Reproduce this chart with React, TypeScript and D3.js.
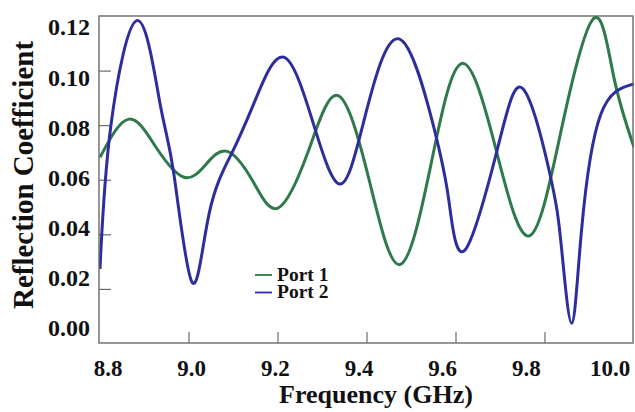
import React from "react";
import * as d3 from "d3";

const port1Freq = [8.8, 8.865, 8.927, 8.989, 9.038, 9.086, 9.143, 9.2, 9.268, 9.335, 9.405, 9.474, 9.544, 9.613, 9.69, 9.766, 9.84, 9.911, 9.955, 10.0];
const port1Val = [0.0684, 0.0824, 0.0718, 0.0611, 0.0658, 0.0706, 0.0598, 0.0498, 0.0706, 0.0910, 0.0600, 0.0291, 0.0660, 0.1028, 0.0712, 0.0397, 0.0810, 0.1195, 0.0975, 0.0721];

const port2Freq = [8.8, 8.824, 8.884, 8.935, 8.966, 9.007, 9.045, 9.097, 9.15, 9.213, 9.278, 9.339, 9.395, 9.472, 9.551, 9.584, 9.62, 9.695, 9.751, 9.811, 9.837, 9.86, 9.882, 9.925, 10.0];
const port2Val = [0.0275, 0.0794, 0.1185, 0.0880, 0.0623, 0.0226, 0.0476, 0.0702, 0.0898, 0.1051, 0.0815, 0.0586, 0.0830, 0.1118, 0.0788, 0.0525, 0.0344, 0.0727, 0.0934, 0.0623, 0.0354, 0.0076, 0.0415, 0.0840, 0.0953];

const xTicks = [8.8, 9.0, 9.2, 9.4, 9.6, 9.8, 10.0];
const yTicks = [0, 0.02, 0.04, 0.06, 0.08, 0.1, 0.12];
const seriesNames = ["Port 1", "Port 2"];
const seriesColors = ["#2e7a4b", "#2d2d9e"];

export default function App() {
  const W = 635, H = 412;
  const left = 100, right = 634, top = 16.5, bottom = 344;
  const x = d3.scaleLinear().domain([8.8, 10.0]).range([left, right]);
  const y = d3.scaleLinear().domain([0, 0.12]).range([bottom, top]);
  // label placement scales (labels in the reference are slightly offset from ticks)
  const xl = d3.scaleLinear().domain([8.8, 10.0]).range([108, 610]);
  const yl = d3.scaleLinear().domain([0, 0.12]).range([328, 27]);

  const line = d3
    .line<[number, number]>()
    .x((d) => x(d[0]))
    .y((d) => y(d[1]))
    .curve(d3.curveNatural);

  const s1 = port1Freq.map((f, i) => [f, port1Val[i]] as [number, number]);
  const s2 = port2Freq.map((f, i) => [f, port2Val[i]] as [number, number]);

  const font = "'Liberation Serif', 'Times New Roman', serif";
  const frame = "#6a6a6a";

  return (
    <svg width={W} height={H} style={{ position: "absolute", left: 0, top: 0, background: "#fff" }} fontFamily={font}>
      <defs>
        <clipPath id="plotclip">
          <rect x={99} y={16} width={535} height={328} />
        </clipPath>
      </defs>
      <rect x={0} y={0} width={W} height={H} fill="#fff" />
      {xTicks.slice(1, -1).map((t) => (
        <line key={"xt" + t} x1={x(t)} x2={x(t)} y1={bottom - 1} y2={bottom - 12} stroke={frame} strokeWidth={1.2} />
      ))}
      {yTicks.slice(1, -1).map((t) => (
        <line key={"yt" + t} x1={left - 1} x2={left + 11} y1={y(t)} y2={y(t)} stroke={frame} strokeWidth={1.2} />
      ))}
      <g clipPath="url(#plotclip)">
        <path d={line(s1) || ""} fill="none" stroke={seriesColors[0]} strokeWidth={3} />
        <path d={line(s2) || ""} fill="none" stroke={seriesColors[1]} strokeWidth={3} />
      </g>
      <rect x={99} y={16} width={534} height={327} fill="none" stroke={frame} strokeWidth={1.4} />
      {xTicks.map((t) => (
        <text key={"xl" + t} x={xl(t)} y={376} textAnchor="middle" fontSize={23} fontWeight="bold" fill="#111">
          {t.toFixed(1)}
        </text>
      ))}
      {yTicks.map((t) => (
        <text key={"yl" + t} x={90} y={yl(t)} dy="0.35em" textAnchor="end" fontSize={24} fontWeight="bold" fill="#111">
          {t.toFixed(2)}
        </text>
      ))}
      <text x={376} y={403} textAnchor="middle" fontSize={26} fontWeight="bold" fill="#111">
        Frequency (GHz)
      </text>
      <text transform="translate(33,175) rotate(-90)" textAnchor="middle" fontSize={29} fontWeight="bold" fill="#111">
        Reflection Coefficient
      </text>
      {seriesNames.map((n, i) => (
        <g key={n}>
          <line x1={255} x2={272} y1={275 + i * 17.5} y2={275 + i * 17.5} stroke={seriesColors[i]} strokeWidth={1.8} />
          <text x={277} y={280.5 + i * 17.5} fontSize={19.5} fontWeight="bold" fill="#111">
            {n}
          </text>
        </g>
      ))}
    </svg>
  );
}
